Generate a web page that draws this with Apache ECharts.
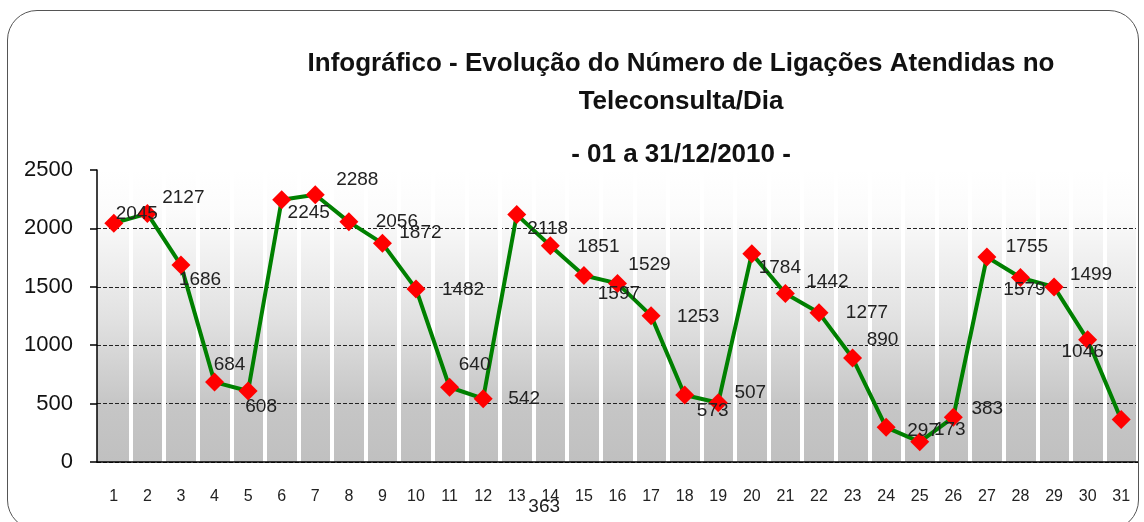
<!DOCTYPE html>
<html>
<head>
<meta charset="utf-8">
<script src="https://cdn.jsdelivr.net/npm/echarts@6/dist/echarts.min.js"></script>
<style>
html,body{margin:0;padding:0;background:#fff;}
#wrap{position:relative;width:1144px;height:522px;overflow:hidden;}
#chart{position:absolute;left:0;top:0;width:1144px;height:522px;}
#frame{position:absolute;left:7px;top:10px;width:1132px;height:520px;border:1.5px solid #555;border-radius:30px;box-sizing:border-box;pointer-events:none;}
</style>
</head>
<body>
<div id="wrap"><div id="chart"></div><div id="frame"></div></div>
<script>
const days = ['1','2','3','4','5','6','7','8','9','10','11','12','13','14','15','16','17','18','19','20','21','22','23','24','25','26','27','28','29','30','31'];
const calls = [2045,2127,1686,684,608,2245,2288,2056,1872,1482,640,542,2118,1851,1597,1529,1253,573,507,1784,1442,1277,890,297,173,383,1755,1579,1499,1046,363];
const yTicks = [0,500,1000,1500,2000,2500];
const titleLines = ['Infográfico - Evolução do Número de Ligações Atendidas no','Teleconsulta/Dia','- 01 a 31/12/2010 -'];
// label placement (style only): pixel offsets of each value label from its marker
const labelOffsets = [[23,-9],[36,-16],[19,15],[15,-17],[13,16],[27,13],[42,-15],[48,0],[38,-11],[47,1],[25,-22],[41,0],[31,14],[48,1],[35,18],[32,-19],[47,1],[28,16],[32,-10],[28,14],[42,-12],[48,0],[30,-18],[37,3],[30,-12],[34,-8],[40,-10],[4,12],[37,-12],[-5,12],[-577,87]];

const chart = echarts.init(document.getElementById('chart'));
const font = 'Liberation Sans, Arial, sans-serif';
const titleTops = [46, 84, 137];
chart.setOption({
  animation: false,
  backgroundColor: '#fff',
  title: titleLines.map((t, i) => ({
    text: t, left: 676, top: titleTops[i], textAlign: 'center',
    textStyle: {fontFamily: font, fontWeight: 'bold', fontSize: 26, color: '#111'}
  })),
  grid: {
    left: 97, right: 6, top: 170, bottom: 60, show: true, borderWidth: 0,
    backgroundColor: new echarts.graphic.LinearGradient(0, 0, 0, 1, [
      {offset: 0, color: '#ffffff'},
      {offset: 0.15, color: '#fbfbfb'},
      {offset: 0.5, color: '#e2e2e2'},
      {offset: 0.8, color: '#c6c6c6'},
      {offset: 1, color: '#c0c0c0'}
    ])
  },
  xAxis: {
    type: 'category', data: days, z: 1,
    axisLine: {lineStyle: {color: '#000', width: 1.5}},
    axisTick: {length: 6, lineStyle: {color: '#000', width: 1.5}},
    axisLabel: {fontFamily: font, fontSize: 16, color: '#222', margin: 27},
    splitLine: {show: true, interval: (i) => i > 0, lineStyle: {color: '#ffffff', width: 4}}
  },
  yAxis: {
    type: 'value', min: yTicks[0], max: yTicks[yTicks.length-1], interval: yTicks[1]-yTicks[0],
    axisLine: {show: true, lineStyle: {color: '#000', width: 1.5}},
    axisTick: {show: true, length: 7, lineStyle: {color: '#000', width: 1.5}},
    axisLabel: {fontFamily: font, fontSize: 22, color: '#111', margin: 24, formatter: v => String(v)},
    splitLine: {show: true, lineStyle: {type: [4, 2], width: 1, color: ['#222','#222','#222','#222','#222','rgba(0,0,0,0)']}}
  },
  series: [{
    type: 'line', data: calls.map((v, i) => ({
      value: v,
      label: {offset: labelOffsets[i]}
    })),
    z: 3,
    symbol: 'diamond', symbolSize: 19,
    itemStyle: {color: '#ff0000'},
    lineStyle: {color: '#008000', width: 4},
    label: {show: true, position: 'inside', fontFamily: font, fontSize: 19, color: '#222'}
  }]
});
</script>
</body>
</html>
